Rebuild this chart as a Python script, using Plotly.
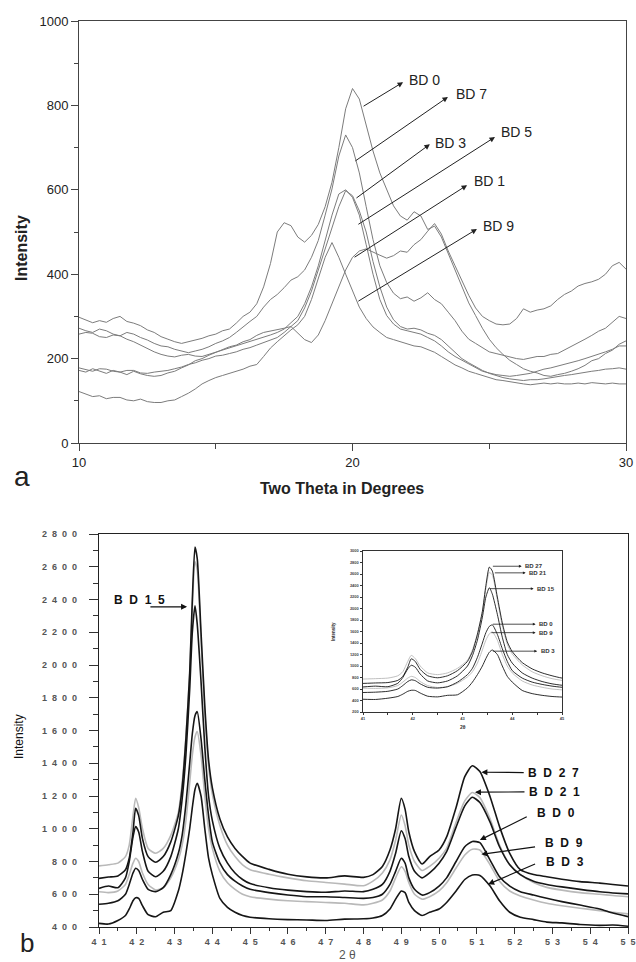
import plotly.graph_objects as go

# ---------------- Panel (a) data ----------------
two_theta_a = [10.0, 10.25, 10.5, 10.75, 11.0, 11.25, 11.5, 11.75, 12.0, 12.25, 12.5, 12.75,
               13.0, 13.25, 13.5, 13.75, 14.0, 14.25, 14.5, 14.75, 15.0, 15.25, 15.5, 15.75,
               16.0, 16.25, 16.5, 16.75, 17.0, 17.25, 17.5, 17.75, 18.0, 18.25, 18.5, 18.75,
               19.0, 19.25, 19.5, 19.75, 20.0, 20.25, 20.5, 20.75, 21.0, 21.25, 21.5, 21.75,
               22.0, 22.25, 22.5, 22.75, 23.0, 23.25, 23.5, 23.75, 24.0, 24.25, 24.5, 24.75,
               25.0, 25.25, 25.5, 25.75, 26.0, 26.25, 26.5, 26.75, 27.0, 27.25, 27.5, 27.75,
               28.0, 28.25, 28.5, 28.75, 29.0, 29.25, 29.5, 29.75, 30.0]

a_bd0 = [298, 292, 285, 290, 286, 295, 300, 288, 284, 278, 268, 262, 252, 246, 240, 236, 240, 244, 248, 254,
         258, 266, 270, 284, 300, 310, 330, 370, 425, 500, 522, 515, 488, 476, 492, 518, 560, 618, 700, 792,
         840, 815, 750, 692, 640, 602, 562, 538, 528, 548, 538, 506, 514, 488, 448, 410, 372, 332, 302, 272,
         246, 226, 210, 196, 186, 176, 170, 166, 160, 158, 162, 165, 170, 176, 184, 195, 200, 212, 220, 234, 242]
a_bd7 = [272, 266, 262, 270, 266, 258, 254, 262, 258, 250, 244, 236, 230, 228, 222, 218, 214, 218, 222, 228,
         236, 242, 250, 262, 276, 288, 300, 322, 340, 352, 368, 386, 394, 410, 440, 480, 540, 602, 680, 730,
         700, 640, 560, 482, 420, 380, 355, 342, 346, 336, 344, 356, 340, 330, 310, 290, 265, 246, 236, 226,
         216, 212, 208, 204, 200, 198, 202, 205, 205, 210, 212, 220, 230, 238, 246, 255, 265, 272, 286, 300, 295]
a_bd3 = [258, 262, 260, 252, 250, 256, 254, 246, 240, 232, 225, 216, 210, 206, 204, 208, 210, 206, 205, 210,
         215, 220, 226, 230, 236, 240, 246, 250, 256, 262, 270, 285, 300, 330, 370, 420, 480, 540, 590, 600,
         582, 540, 470, 400, 340, 302, 282, 270, 266, 262, 258, 250, 242, 230, 216, 205, 196, 186, 178, 170,
         166, 162, 160, 158, 160, 162, 165, 170, 175, 178, 182, 186, 190, 195, 200, 205, 210, 216, 222, 230, 230]
a_bd5 = [178, 174, 170, 176, 175, 170, 168, 172, 172, 166, 165, 168, 170, 172, 176, 180, 186, 190, 196, 200,
         206, 208, 212, 216, 222, 226, 232, 238, 245, 250, 262, 275, 290, 320, 360, 410, 460, 510, 560, 598,
         586, 550, 500, 430, 370, 322, 292, 276, 270, 272, 268, 260, 255, 245, 230, 215, 200, 190, 180, 172,
         165, 160, 155, 152, 150, 148, 150, 150, 152, 155, 158, 160, 162, 165, 168, 170, 172, 175, 176, 178, 175]
a_bd1 = [172, 168, 176, 170, 165, 172, 168, 162, 170, 164, 160, 158, 160, 166, 170, 178, 185, 195, 200, 208,
         215, 222, 228, 232, 240, 245, 255, 262, 265, 268, 272, 276, 260, 245, 238, 256, 290, 330, 370, 410,
         440, 455, 460, 452, 445, 438, 444, 455, 452, 470, 482, 502, 520, 495, 455, 420, 385, 350, 320, 300,
         290, 282, 280, 282, 295, 318, 310, 315, 318, 325, 340, 352, 360, 372, 378, 382, 388, 400, 420, 428, 412]
a_bd9 = [122, 116, 110, 112, 105, 108, 108, 102, 100, 104, 98, 96, 96, 100, 102, 110, 118, 128, 140, 148,
         155, 160, 165, 170, 175, 182, 186, 205, 225, 240, 255, 268, 280, 300, 340, 390, 440, 475, 440, 400,
         360, 322, 295, 275, 262, 250, 245, 240, 235, 230, 228, 222, 215, 205, 195, 185, 178, 170, 165, 160,
         155, 150, 148, 145, 142, 140, 138, 140, 142, 140, 142, 140, 140, 142, 140, 143, 142, 140, 142, 140, 140]

a_names = ["BD 0", "BD 7", "BD 3", "BD 5", "BD 1", "BD 9"]
a_series = [a_bd0, a_bd7, a_bd3, a_bd5, a_bd1, a_bd9]
# label text position (x, y) and arrow tail on curve (x, y) / head (x, y)
a_label_x = [22.0, 23.71, 22.96, 25.36, 24.36, 24.70]
a_label_y = [860, 827, 711, 737, 621, 514]
a_tail_x = [20.35, 20.05, 20.09, 20.16, 20.02, 20.16]
a_tail_y = [796, 666, 578, 516, 438, 334]
a_head_x = [21.85, 23.49, 22.83, 25.21, 24.19, 24.55]
a_head_y = [855, 820, 708, 725, 611, 507]

# ---------------- Panel (b) data ----------------
two_theta_b = [41.0, 41.25, 41.5, 41.7, 41.8, 41.9, 41.97, 42.05, 42.15, 42.3, 42.5, 42.7, 42.9, 43.1,
               43.2, 43.3, 43.4, 43.47, 43.54, 43.6, 43.7, 43.8, 43.9, 44.0, 44.2, 44.4, 44.6, 44.8,
               45.0, 45.5, 46.0, 46.5, 47.0, 47.5, 48.0, 48.25, 48.5, 48.7, 48.85, 49.0, 49.1, 49.2,
               49.35, 49.55, 49.75, 50.0, 50.2, 50.45, 50.68, 50.88, 51.08, 51.35, 51.6, 51.87, 52.15,
               52.5, 52.85, 53.25, 53.73, 54.25, 54.6, 55.0]

b_bd27 = [697, 705, 712, 750, 820, 980, 1125, 1080, 940, 830, 795, 830, 920, 1080,
          1250, 1550, 1950, 2400, 2720, 2650, 2200, 1750, 1420, 1250, 1060, 950, 880, 830,
          790, 752, 722, 706, 700, 712, 703, 720, 770, 870, 1000, 1186, 1120, 980,
          860, 785, 830, 870, 950, 1130, 1318, 1385, 1349, 1196, 1013, 850, 750,
          720, 707, 692, 677, 668, 660, 650]
b_bd21 = [773, 780, 790, 830, 900, 1080, 1186, 1130, 1000, 880, 850, 880, 960, 1100,
          1280, 1560, 1950, 2350, 2630, 2580, 2150, 1700, 1380, 1210, 1020, 900, 830, 780,
          750, 722, 700, 682, 672, 662, 652, 680, 730, 810, 930, 1084, 1020, 900,
          800, 745, 770, 820, 880, 1040, 1170, 1221, 1190, 1060, 900, 780, 720,
          672, 642, 625, 610, 600, 592, 585]
b_bd15 = [636, 650, 640, 700, 800, 950, 1013, 980, 860, 740, 707, 740, 830, 1000,
          1180, 1450, 1850, 2200, 2361, 2250, 1900, 1500, 1200, 1050, 880, 790, 730, 690,
          665, 640, 625, 616, 612, 620, 616, 630, 660, 740, 850, 988, 940, 830,
          740, 700, 730, 790, 860, 1010, 1140, 1192, 1160, 1040, 890, 780, 720,
          680, 660, 645, 630, 615, 608, 602]
b_bd0 = [539, 545, 560, 600, 660, 730, 759, 745, 690, 630, 616, 640, 720, 850,
         960, 1150, 1400, 1580, 1690, 1715, 1550, 1300, 1080, 920, 790, 720, 680, 650,
         630, 610, 595, 585, 585, 580, 575, 580, 600, 660, 740, 820, 790, 700,
         630, 595, 610, 650, 700, 800, 890, 922, 915, 809, 707, 650, 616,
         595, 575, 555, 534, 510, 485, 463]
b_bd9 = [615, 610, 620, 660, 720, 790, 820, 800, 730, 660, 626, 640, 700, 810,
         900, 1050, 1280, 1450, 1560, 1593, 1450, 1200, 1000, 880, 740, 670, 630, 600,
         585, 570, 560, 555, 550, 545, 535, 545, 565, 620, 700, 768, 740, 670,
         600, 570, 585, 620, 670, 760, 840, 875, 870, 780, 680, 620, 590,
         565, 545, 530, 515, 500, 490, 480]
b_bd3 = [422, 418, 440, 470, 510, 560, 578, 575, 530, 475, 463, 490, 500, 620,
         720, 850, 1000, 1130, 1240, 1278, 1200, 1000, 820, 720, 575, 520, 490, 470,
         460, 450, 445, 443, 440, 448, 450, 455, 470, 510, 570, 620, 610, 550,
         500, 470, 490, 510, 550, 620, 690, 718, 715, 650, 560, 490, 460,
         445, 430, 425, 415, 410, 412, 405]

b_names = ["BD 27", "BD 21", "BD 15", "BD 0", "BD 9", "BD 3"]
b_series = [b_bd27, b_bd21, b_bd15, b_bd0, b_bd9, b_bd3]
b_colors = ["#161616", "#b9b9b9", "#161616", "#161616", "#b9b9b9", "#161616"]

b_ticks_y = [400, 600, 800, 1000, 1200, 1400, 1600, 1800, 2000, 2200, 2400, 2600, 2800]
b_ticks_x = [41, 42, 43, 44, 45, 46, 47, 48, 49, 50, 51, 52, 53, 54, 55]

# labels on the main panel (b): text position, arrow tail, arrow head on curve
b_lab_names = ["BD 27", "BD 21", "BD 0", "BD 9", "BD 3"]
b_lab_x = [52.29, 52.34, 52.53, 52.76, 52.77]
b_lab_y = [1343, 1226, 1098, 915, 795]
b_tail_x = [52.28, 52.30, 52.36, 52.58, 52.58]
b_tail_y = [1343, 1225, 1078, 890, 789]
b_head_x = [51.12, 50.95, 51.08, 51.12, 51.30]
b_head_y = [1345, 1223, 931, 844, 661]

# inset labels
in_names = ["BD 27", "BD 21", "BD 15", "BD 0", "BD 9", "BD 3"]
in_tail_x = [43.58, 43.62, 43.52, 43.58, 43.55, 43.58]
in_y = [2735, 2620, 2345, 1727, 1580, 1258]
in_head_x = [44.19, 44.27, 44.43, 44.47, 44.47, 44.50]
in_ticks_y = [200, 400, 600, 800, 1000, 1200, 1400, 1600, 1800, 2000, 2200, 2400, 2600, 2800, 3000]

W, H = 636, 962


def px(x):
    return x / W


def py(y):
    return 1 - y / H


def spaced(s, n=2):
    return ("\u00a0" * n).join(list(str(s).replace(" ", "")))


fig = go.Figure()

# panel a
for name, ys in zip(a_names, a_series):
    fig.add_trace(go.Scatter(x=two_theta_a, y=ys, mode="lines", name=name,
                             line=dict(color="#7c7c7c", width=1), xaxis="x", yaxis="y"))

# panel b (grey first, then black)
order = [1, 4, 0, 2, 3, 5]
for i in order:
    fig.add_trace(go.Scatter(x=two_theta_b, y=b_series[i], mode="lines", name=b_names[i],
                             line=dict(color=b_colors[i], width=1.6, shape="spline", smoothing=0.6),
                             xaxis="x2", yaxis="y2"))
# inset
for i in order:
    fig.add_trace(go.Scatter(x=two_theta_b, y=b_series[i], mode="lines", name=b_names[i] + " inset",
                             line=dict(color=b_colors[i], width=0.9, shape="spline", smoothing=0.6),
                             xaxis="x3", yaxis="y3"))

ann = []
# panel a labels
for n, lx, ly, tx, ty, hx, hy in zip(a_names, a_label_x, a_label_y, a_tail_x, a_tail_y, a_head_x, a_head_y):
    ann.append(dict(x=lx, y=ly, xref="x", yref="y", text=n, showarrow=False, xanchor="left",
                    yanchor="middle", font=dict(family="Arial", size=14, color="#222")))
    ann.append(dict(x=hx, y=hy, xref="x", yref="y", ax=tx, ay=ty, axref="x", ayref="y", text="",
                    showarrow=True, arrowhead=2, arrowsize=1.1, arrowwidth=1, arrowcolor="#222", standoff=0))

# panel b labels
for n, lx, ly, tx, ty, hx, hy in zip(b_lab_names, b_lab_x, b_lab_y, b_tail_x, b_tail_y, b_head_x, b_head_y):
    ann.append(dict(x=lx, y=ly, xref="x2", yref="y2", text="<b>" + spaced(n) + "</b>", showarrow=False,
                    xanchor="left", yanchor="middle", font=dict(family="Arial", size=12, color="#111")))
    ann.append(dict(x=hx, y=hy, xref="x2", yref="y2", ax=tx, ay=ty, axref="x2", ayref="y2", text="",
                    showarrow=True, arrowhead=2, arrowsize=1, arrowwidth=1.2, arrowcolor="#111", standoff=0))
# BD 15
ann.append(dict(x=41.34, y=2397, xref="x2", yref="y2", text="<b>" + spaced("BD 15") + "</b>", showarrow=False,
                xanchor="left", yanchor="middle", font=dict(family="Arial", size=12, color="#111")))
ann.append(dict(x=43.33, y=2355, xref="x2", yref="y2", ax=42.32, ay=2355, axref="x2", ayref="y2", text="",
                showarrow=True, arrowhead=2, arrowsize=1, arrowwidth=1.2, arrowcolor="#111", standoff=0))

# inset labels
for n, tx, yy, hx in zip(in_names, in_tail_x, in_y, in_head_x):
    ann.append(dict(x=hx, y=yy, xref="x3", yref="y3", ax=tx, ay=yy, axref="x3", ayref="y3", text="",
                    showarrow=True, arrowhead=2, arrowsize=0.7, arrowwidth=0.8, arrowcolor="#222", standoff=0))
    ann.append(dict(x=hx + 0.03, y=yy, xref="x3", yref="y3", text="<b>" + n + "</b>", showarrow=False,
                    xanchor="left", yanchor="middle", font=dict(family="Arial", size=6, color="#333")))

# axis titles and panel letters
paper_texts = [
    (21, 248, "<b>Intensity</b>", -90, 16, "#222"),
    (342, 488, "<b>Two Theta in Degrees</b>", 0, 16, "#222"),
    (22, 476, "a", 0, 28, "#222"),
    (19, 737, "Intensity", -90, 12, "#111"),
    (347, 955, "2\u00a0\u03b8", 0, 12, "#555"),
    (27, 943, "b", 0, 26, "#222"),
    (333, 632, "<b>Intensity</b>", -90, 4.5, "#333"),
    (463, 727, "<b>2\u03b8</b>", 0, 5, "#333"),
]
for x0, y0, t, ang, sz, col in paper_texts:
    ann.append(dict(x=px(x0), y=py(y0), xref="paper", yref="paper", text=t, textangle=ang,
                    xanchor="center", yanchor="middle", showarrow=False,
                    font=dict(family="Arial", size=sz, color=col)))

axis_a = dict(showgrid=False, zeroline=False, showline=True, linecolor="#444", linewidth=1, mirror=True,
              ticks="outside", tickcolor="#444", tickwidth=1, ticklen=7, automargin=False,
              tickfont=dict(family="Arial", size=13, color="#222"))
axis_b = dict(showgrid=False, zeroline=False, showline=True, linecolor="#222", linewidth=1.3, mirror=True,
              ticks="outside", tickcolor="#333", tickwidth=1.2, automargin=False,
              tickfont=dict(family="Arial", size=9, color="#555", weight="bold"))
axis_c = dict(showgrid=False, zeroline=False, showline=True, linecolor="#333", linewidth=0.8, mirror=True,
              ticks="outside", tickcolor="#333", tickwidth=0.8, ticklen=2.5, automargin=False,
              tickfont=dict(family="Arial", size=4, color="#444", weight="bold"))

fig.update_layout(
    width=W, height=H, margin=dict(l=0, r=0, t=0, b=0, autoexpand=False), showlegend=False,
    paper_bgcolor="white", plot_bgcolor="white",
    xaxis=dict(axis_a, domain=[px(79), px(626)], range=[10, 30], tickvals=[10, 20, 30], anchor="y",
               minor=dict(tickvals=[15, 25], ticklen=5, ticks="outside", tickcolor="#444")),
    yaxis=dict(axis_a, domain=[py(443), py(21)], range=[0, 1000], tickvals=[0, 200, 400, 600, 800, 1000],
               anchor="x", minor=dict(dtick=100, ticklen=4, ticks="outside", tickcolor="#444")),
    xaxis2=dict(axis_b, domain=[px(99), px(628)], range=[41, 55], tickvals=b_ticks_x,
                ticktext=[spaced(v) for v in b_ticks_x], ticklen=6, anchor="y2",
                minor=dict(dtick=0.5, tick0=41, ticklen=3, ticks="outside", tickcolor="#333")),
    yaxis2=dict(axis_b, domain=[py(927), py(534)], range=[400, 2800], tickvals=b_ticks_y,
                ticktext=[spaced(v) for v in b_ticks_y], ticklen=9, ticklabelstandoff=10, anchor="x2",
                minor=dict(dtick=100, ticklen=5, ticks="outside", tickcolor="#333")),
    xaxis3=dict(axis_c, domain=[px(363), px(562)], range=[41, 45], tickvals=[41, 42, 43, 44, 45], anchor="y3",
                minor=dict(dtick=0.5, tick0=41, ticklen=2, ticks="outside", tickcolor="#333")),
    yaxis3=dict(axis_c, domain=[py(712), py(551)], range=[200, 3000], tickvals=in_ticks_y, anchor="x3"),
    annotations=ann,
)

fig.write_html("out.html", config={"displayModeBar": False},
               post_script="document.body.style.margin='0';document.body.style.padding='0';")
